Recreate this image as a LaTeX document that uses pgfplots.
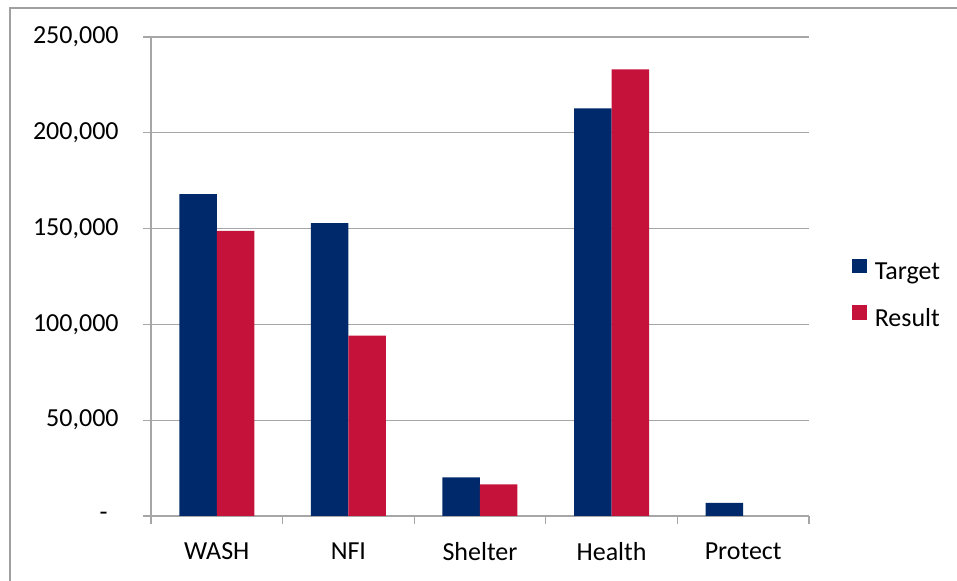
\documentclass[border=0pt]{standalone}
\usepackage{pgfplots}
\pgfplotsset{compat=1.18}
\usepackage{fontspec}
\setmainfont{Carlito}
\definecolor{navy}{RGB}{0,41,107}
\definecolor{crim}{RGB}{196,18,59}
\definecolor{gridgray}{RGB}{166,166,166}
\definecolor{framegray}{RGB}{160,160,160}
\begin{document}
\fontsize{13bp}{15bp}\selectfont
\begin{tikzpicture}
\useasboundingbox (-75.5bp,-32.5bp) rectangle (403bp,258bp);
\draw[framegray, line width=0.8bp] (-70.5bp,-32.5bp) -- (-70.5bp,254bp) -- (403bp,254bp);
\begin{axis}[
  at={(0,0)}, anchor=south west,
  scale only axis,
  width=329bp, height=239.5bp,
  ybar=0pt, bar width=18.75bp,
  xmin=-0.5, xmax=4.5,
  ymin=0, ymax=250000,
  axis x line*=bottom, axis y line*=left,
  axis line style={draw=gridgray, line width=0.6bp, -},
  xtick={0,1,2,3,4},
  xticklabels={WASH, NFI, Shelter, Health, Protect},
  major x tick style={draw=none},
  minor xtick={-0.5,0.5,1.5,2.5,3.5,4.5},
  minor x tick style={draw=gridgray, line width=0.6bp},
  minor tick length=4bp,
  ytick={0,50000,100000,150000,200000,250000},
  yticklabels={{-\hspace*{5.5bp}},{50,000},{100,000},{150,000},{200,000},{250,000}},
  scaled y ticks=false,
  major y tick style={draw=gridgray, line width=0.6bp},
  major tick length=4bp,
  tick align=outside,
  ymajorgrids,
  grid style={draw=gridgray, line width=0.6bp},
  /pgf/number format/assume math mode=true,
  ticklabel style={font=\fontsize{13bp}{15bp}\selectfont},
  yticklabel style={anchor=east, inner sep=0pt, xshift=-12bp},
  xticklabel style={anchor=north, inner sep=0pt, yshift=-9bp},
  legend style={at={(1.0653,0.4624)}, anchor=west, draw=none, fill=none,
    font=\fontsize{13bp}{15bp}\selectfont, row sep=11bp, column sep=4bp,
    inner sep=0pt,
    nodes={inner sep=0pt, anchor=west}},
  legend cell align=left,
]
\addplot[fill=navy, draw=none,
  legend image code/.code={\fill[navy] (0bp,-0.2bp) rectangle (7.2bp,7bp);}]
  coordinates {(0,168050) (1,152900) (2,20200) (3,212800) (4,6800)};
\addplot[fill=crim, draw=none,
  legend image code/.code={\fill[crim] (0bp,-0.2bp) rectangle (7.2bp,7bp);}]
  coordinates {(0,148750) (1,94100) (2,16550) (3,233150) (4,0)};
\legend{Target, Result}
\end{axis}
\end{tikzpicture}
\end{document}
